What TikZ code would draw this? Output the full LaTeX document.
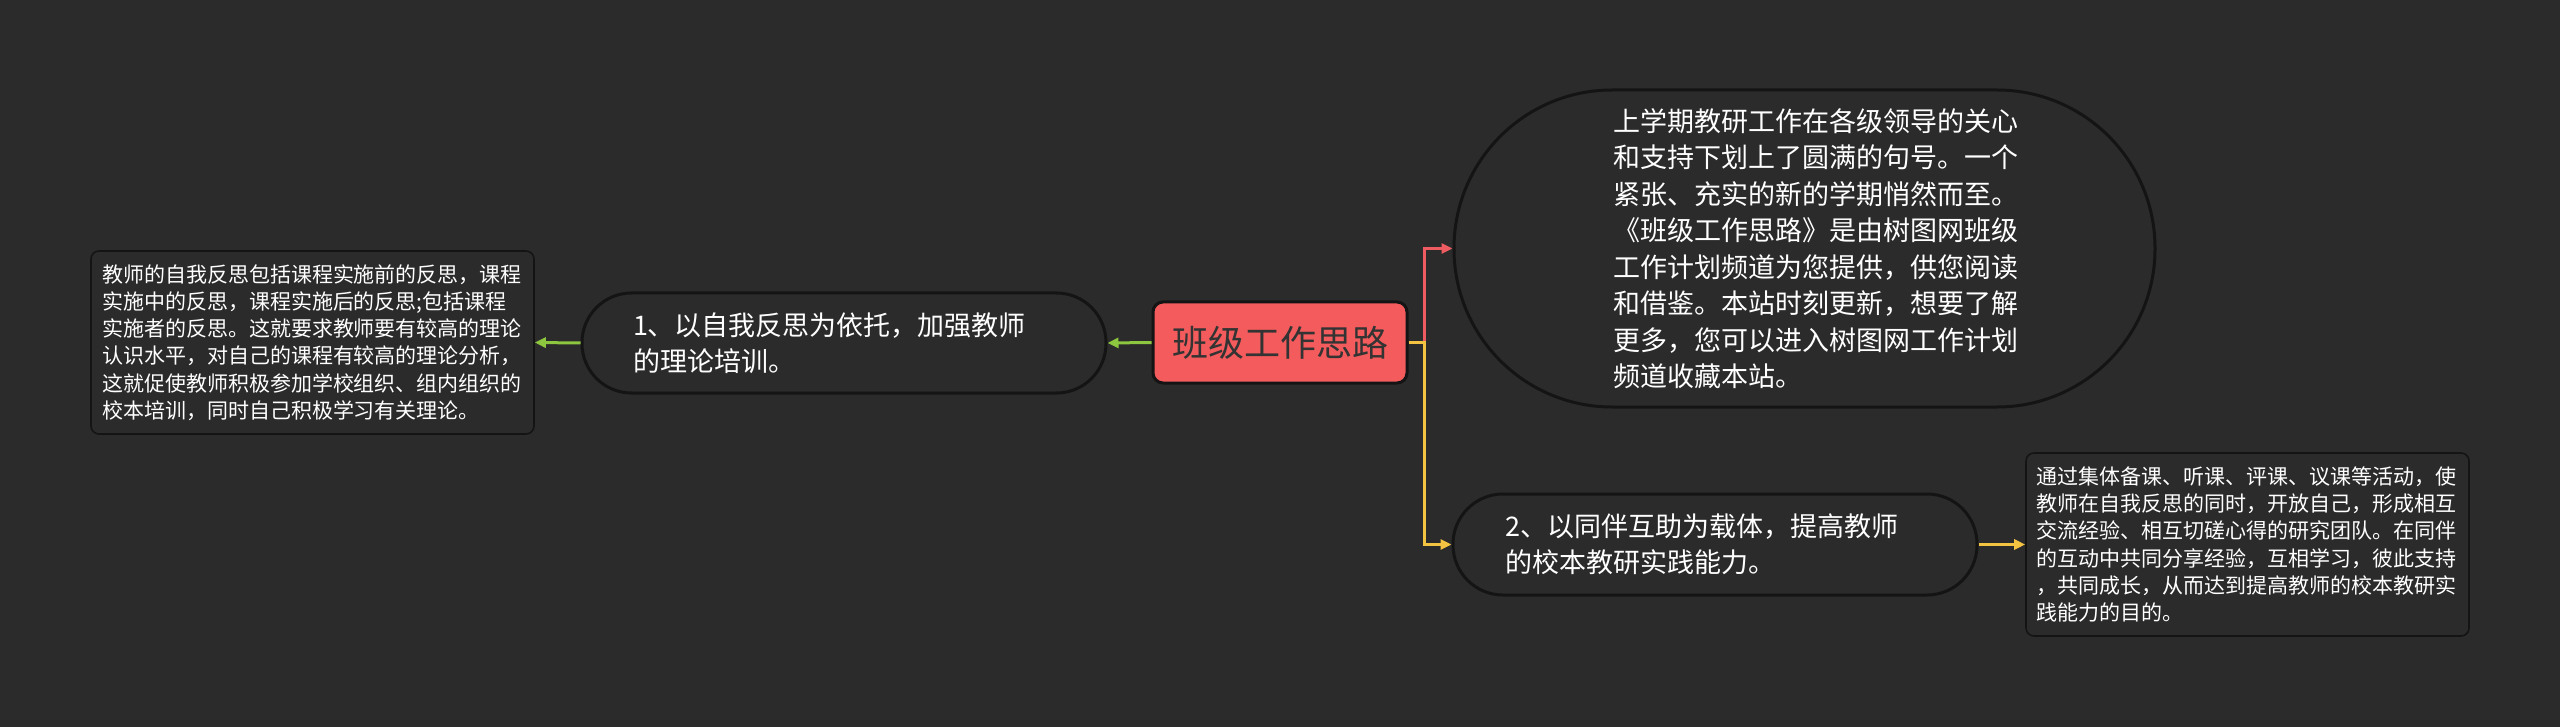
\documentclass[tikz,border=0pt]{standalone}
\usepackage{fontspec}
\setmainfont{Noto Sans CJK SC}
\usetikzlibrary{arrows.meta}
\definecolor{bg}{HTML}{2B2B2B}
\definecolor{nodefill}{HTML}{2B2B2B}
\definecolor{edge}{HTML}{141414}
\definecolor{rootfill}{HTML}{F45B5C}
\definecolor{roottext}{HTML}{333333}
\definecolor{lgreen}{HTML}{8DC63F}
\definecolor{lred}{HTML}{EE5B60}
\definecolor{lyellow}{HTML}{F5C342}
\begin{document}
\begin{tikzpicture}[x=1pt,y=-1pt,
  pill/.style={draw=edge, line width=3pt, fill=nodefill, text=white, inner sep=0pt,
    align=left, font=\fontsize{27pt}{36.5pt}\selectfont},
  leaf/.style={draw=edge, line width=1.6pt, fill=nodefill, rounded corners=8pt, text=white,
    inner sep=0pt, align=left, font=\fontsize{21pt}{27.3pt}\selectfont,
    minimum width=443pt, minimum height=183pt},
  rootnode/.style={draw=edge, line width=3pt, fill=rootfill, text=roottext, rounded corners=10pt,
    inner sep=0pt, minimum width=254pt, minimum height=81pt, font=\fontsize{36pt}{40pt}\selectfont},
  link/.style={line width=3pt, -{Triangle[length=11pt,width=10pt]}}
]
\fill[bg] (0,0) rectangle (2560,727);
\useasboundingbox (0,0) rectangle (2560,727);

\node[rootnode] (root) at (1280,342.5) {班级工作思路};

\node[pill, minimum width=524pt, minimum height=100pt, rounded corners=49.5pt, text width=422pt]
  (n1) at (844,343) {1、以自我反思为依托，加强教师\\的理论培训。};

\node[pill, minimum width=701pt, minimum height=317pt, rounded corners=158pt, text width=383pt]
  (n2) at (1804.5,248.5) {上学期教研工作在各级领导的关心\\和支持下划上了圆满的句号。一个\\紧张、充实的新的学期悄然而至。\\《班级工作思路》是由树图网班级\\工作计划频道为您提供，供您阅读\\和借鉴。本站时刻更新，想要了解\\更多，您可以进入树图网工作计划\\频道收藏本站。};

\node[pill, minimum width=524pt, minimum height=101pt, rounded corners=50pt, text width=420pt]
  (n3) at (1715,544.5) {2、以同伴互助为载体，提高教师\\的校本教研实践能力。};

\node[leaf, text width=421pt] (l1) at (312.5,342.5)
  {教师的自我反思包括课程实施前的反思，课程\\实施中的反思，课程实施后的反思;包括课程\\实施者的反思。这就要求教师要有较高的理论\\认识水平，对自己的课程有较高的理论分析，\\这就促使教师积极参加学校组织、组内组织的\\校本培训，同时自己积极学习有关理论。};

\node[leaf, text width=423pt] (l3) at (2247.5,544.5)
  {通过集体备课、听课、评课、议课等活动，使\\教师在自我反思的同时，开放自己，形成相互\\交流经验、相互切磋心得的研究团队。在同伴\\的互动中共同分享经验，互相学习，彼此支持\\，共同成长，从而达到提高教师的校本教研实\\践能力的目的。};

\draw[link, lgreen] (root.west) -- (n1.east);
\draw[link, lgreen] (n1.west) -- (l1.east);
\draw[link, lred] (root.east) -- ++(16,0) |- (n2.west);
\draw[link, lyellow] (root.east) -- ++(16,0) |- (n3.west);
\draw[link, lyellow] (n3.east) -- (l3.west);
\end{tikzpicture}
\end{document}
